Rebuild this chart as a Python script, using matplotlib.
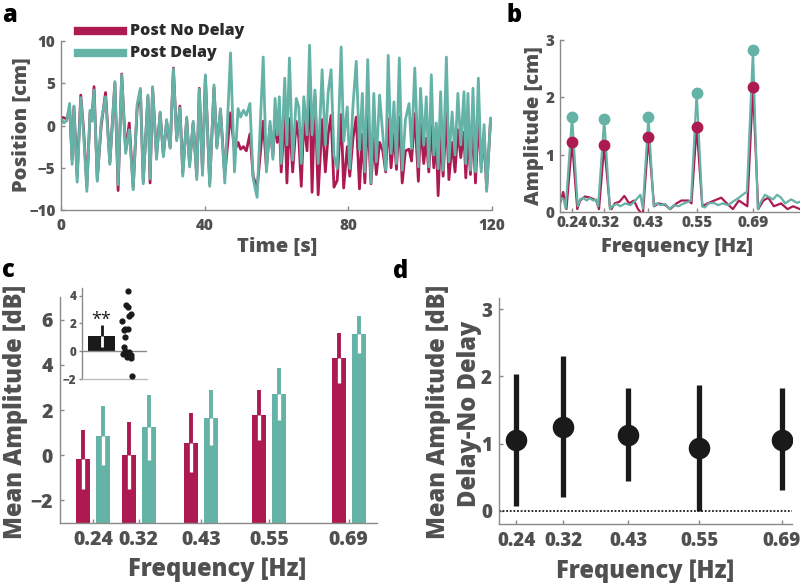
import numpy as np
import matplotlib
matplotlib.use("Agg")
import matplotlib.pyplot as plt
from matplotlib.lines import Line2D

plt.rcParams['font.family'] = ['Open Sans', 'DejaVu Sans']
plt.rcParams['font.weight'] = 800

# ---------------- data ----------------
# panel a: position traces (extrema)
a_time = [0.0, 0.8, 1.6, 2.4, 3.1, 3.6, 4.5, 5.5, 6.3, 7.2, 8.1, 8.6, 9.2, 10.1, 11.2, 12.4, 13.6,
          15.0, 15.9, 16.9, 18.0, 19.0, 20.1, 21.2, 22.1, 22.9, 24.2, 24.8, 25.5, 26.6, 27.6, 28.5,
          29.4, 30.4, 31.3, 32.2, 33.1, 33.9, 35.0, 35.8, 36.8, 37.8, 38.5, 39.4, 40.2, 41.4, 42.6,
          43.4, 44.4, 45.6, 47.2, 48.3, 49.3, 50.0, 50.8, 51.6, 52.6, 53.5, 54.6, 56.3, 57.2, 58.2,
          59.0, 59.6, 60.2, 60.8, 61.3, 62.3, 62.9, 63.6, 64.5, 65.5, 66.2, 66.9, 67.6, 68.5, 69.2,
          69.9, 70.7, 71.6, 72.7, 73.6, 74.4, 75.2, 76.0, 76.9, 78.0, 78.7, 79.7, 80.4, 81.3, 82.2,
          83.1, 83.9, 84.6, 85.4, 86.3, 87.1, 87.8, 88.7, 89.6, 90.4, 91.1, 91.9, 92.7, 93.4, 94.2,
          95.0, 95.9, 96.9, 97.6, 98.5, 99.5, 100.1, 101.0, 101.7, 102.4, 103.1, 103.8, 104.5, 105.0,
          105.7, 106.4, 107.3, 108.0, 108.9, 109.7, 110.5, 111.3, 112.2, 112.7, 113.3, 114.0, 114.7,
          115.4, 116.2, 117.0, 117.8, 118.5, 119.6, 120.0]
a_delay = [0.8, 0.3, 0.6, 2.6, -4.6, 2.3, -6.7, 3.3, -1.0, -7.8, 1.8, 0.5, 4.2, -6.6, 0.5, 3.4, -4.6,
           5.2, -7.0, 6.0, -3.3, -0.5, -7.6, 2.5, 4.4, -6.9, 3.6, -6.3, 4.6, -4.0, 1.6, -3.7,
           0.7, -2.7, 6.7, -1.8, 2.1, -6.0, 1.0, -4.9, 0.5, -6.4, 4.3, -5.9, 6.0, -7.2, 4.8,
           -2.7, 2.0, -6.8, 8.6, -5.5, 2.0, 1.0, 1.8, 1.2, 2.6, -6.3, -8.5, 8.1, -5.5, 0.5,
           -4.0, 3.2, -1.1, 3.4, -4.5, 5.6, -2.3, 8.0, -4.1, 3.2, 2.2, -4.5, 3.4, -1.1, 9.5,
           -1.1, 4.2, -4.5, 6.6, -2.3, 4.0, 6.6, -3.5, -5.1, 9.3, -1.9, 2.2, -5.1, 2.4, 7.6,
           -2.9, 3.8, -5.5, 7.8, -6.8, 3.8, -4.3, 3.6, -1.1, -5.3, 8.3, -3.3, 2.8, -4.5, 8.0,
           -5.3, 0.7, 2.6, -2.7, 6.8, -4.9, 4.4, -2.3, 3.4, -4.9, 6.0, -3.5, 0.3, -5.1,
           4.0, -5.3, 8.1, -4.3, 1.6, -3.5, 3.8, -2.3, 4.0, -4.5, 3.8, -5.3, 4.4,
           -5.5, 5.6, -5.5, 0.1, -7.8, 0.9, 0.5]
a_nodelay = [1.0, 0.9, 0.8, 2.0, -4.0, 2.2, -6.0, 3.6, -0.5, -7.2, 1.5, 0.8, 4.6, -6.4, 0.0, 3.9, -4.4,
             5.0, -7.7, 6.1, -3.0, 0.3, -7.4, 2.0, 4.2, -6.6, 3.4, -6.8, 4.4, -3.6, 1.5, -3.5,
             0.4, -2.6, 6.8, -1.6, 2.3, -5.6, 0.8, -4.6, 0.3, -6.0, 4.4, -5.5, 5.8, -6.9, 4.5,
             -2.5, 1.8, -5.9, 1.5, -3.0, -2.0, -2.8, -2.5, -3.0, -1.0, -6.0, -7.5, 0.5, -5.0, 0.0,
             -3.5, 1.0, -2.0, 0.5, -5.5, 1.5, -6.8, 0.8, -5.5, 0.5, -1.5, -7.2, 0.8, -3.0, 5.3,
             -7.9, 3.5, -8.2, 0.7, -5.5, -1.0, 1.2, -7.3, -6.5, 1.3, -7.4, -2.5, -6.0, -1.5, 1.0,
             -7.5, -1.0, -6.8, 1.2, -6.9, -1.5, -5.8, -2.0, -3.0, -5.5, 0.8, -5.0, -1.0, -5.2, 1.0,
             -6.8, -3.0, -2.8, -4.2, 1.4, -6.6, 0.2, -4.5, -1.5, -5.5, 0.0, -5.0, -1.5, -8.3,
             -1.0, -6.0, 1.5, -6.4, -2.0, -5.5, -0.5, -3.8, -0.8, -6.2, -1.2, -5.8, 0.3,
             -6.8, 0.8, -5.0, -1.2, -7.5, 0.7, 0.4]

# panel b: amplitude spectra
b_freq_delay = [0.210, 0.215, 0.219, 0.224, 0.240, 0.254, 0.260, 0.268, 0.276, 0.284, 0.293, 0.300,
                0.305, 0.320, 0.334, 0.340, 0.350, 0.360, 0.372, 0.385, 0.395, 0.410, 0.416, 0.430,
                0.443, 0.450, 0.460, 0.472, 0.482, 0.493, 0.505, 0.515, 0.530, 0.536, 0.550, 0.564,
                0.570, 0.580, 0.592, 0.603, 0.615, 0.628, 0.640, 0.655, 0.668, 0.675, 0.690, 0.702,
                0.710, 0.720, 0.730, 0.740, 0.750, 0.760, 0.770, 0.785, 0.800, 0.807]
b_amp_delay = [0.20, 0.24, 0.22, 0.06, 1.66, 0.10, 0.22, 0.25, 0.20, 0.24, 0.20, 0.22,
               0.10, 1.62, 0.05, 0.10, 0.14, 0.10, 0.15, 0.12, 0.18, 0.30, 0.06, 1.66,
               0.10, 0.15, 0.12, 0.14, 0.05, 0.12, 0.10, 0.14, 0.18, 0.20, 2.08, 0.10,
               0.08, 0.15, 0.16, 0.12, 0.15, 0.12, 0.18, 0.25, 0.32, 0.35, 2.82, 0.05,
               0.18, 0.30, 0.26, 0.22, 0.30, 0.25, 0.15, 0.22, 0.16, 0.18]
b_freq_nodelay = [0.210, 0.218, 0.226, 0.240, 0.253, 0.260, 0.272, 0.285, 0.300, 0.307, 0.320, 0.334,
                  0.338, 0.346, 0.358, 0.370, 0.382, 0.394, 0.404, 0.416, 0.430, 0.444, 0.455, 0.472,
                  0.484, 0.500, 0.512, 0.530, 0.537, 0.550, 0.564, 0.577, 0.594, 0.611, 0.625, 0.640,
                  0.655, 0.676, 0.690, 0.703, 0.716, 0.728, 0.742, 0.760, 0.776, 0.790, 0.807]
b_amp_nodelay = [0.15, 0.35, 0.05, 1.22, 0.05, 0.20, 0.27, 0.25, 0.20, 0.05, 1.16, 0.10,
                 0.05, 0.15, 0.18, 0.28, 0.15, 0.20, 0.05, -0.05, 1.30, 0.10, 0.15, 0.12,
                 0.05, 0.15, 0.20, 0.20, 0.15, 1.49, 0.10, 0.15, 0.20, 0.25, 0.15, 0.05,
                 0.20, 0.10, 2.18, 0.05, 0.20, 0.25, 0.10, 0.15, 0.05, 0.10, 0.05]

freqs = [0.24, 0.32, 0.43, 0.55, 0.69]
freq_labels = ['0.24', '0.32', '0.43', '0.55', '0.69']
b_peak_delay = [1.66, 1.62, 1.66, 2.08, 2.82]
b_peak_nodelay = [1.22, 1.16, 1.30, 1.49, 2.18]

# panel c: mean amplitude (dB)
c_nodelay = [-0.18, 0.0, 0.55, 1.78, 4.3]
c_nodelay_err = [1.3, 1.48, 1.3, 1.12, 1.1]
c_delay = [0.87, 1.24, 1.66, 2.71, 5.35]
c_delay_err = [1.32, 1.44, 1.22, 1.16, 0.82]

# panel c inset
inset_mean = 1.08
inset_err = 0.8
inset_x = [2.10, 2.05, 2.13, 2.24, 2.17, 1.85, 1.99, 2.13, 1.96, 2.00, 1.94, 1.99, 2.05, 2.16,
           1.90, 2.24, 2.28, 2.08, 2.33]
inset_y = [4.36, 3.3, 3.2, 2.65, 2.5, 2.2, 1.57, 1.57, 1.5, 1.0, 0.3, 0.02, -0.1, -0.05,
           -0.2, -0.3, -0.5, -0.4, -1.78]

# panel d: difference
d_mean = [1.05, 1.24, 1.12, 0.93, 1.06]
d_lo = [0.07, 0.20, 0.44, 0.0, 0.31]
d_hi = [2.04, 2.30, 1.83, 1.87, 1.83]

# ---------------- style ----------------
RED = '#AD1A52'
TEAL = '#65B2A6'
TXT = '#505050'
SPINE = '#8a8a8a'
W, H = 800, 583

fig = plt.figure(figsize=(8, 5.83), dpi=100)


def box(l, t, r, b):
    return [l / W, 1 - b / H, (r - l) / W, (b - t) / H]


def style(ax, size, padx, pady):
    for s in ['top', 'right']:
        ax.spines[s].set_visible(False)
    for s in ['left', 'bottom']:
        ax.spines[s].set_color(SPINE)
        ax.spines[s].set_linewidth(1.0)
    ax.tick_params(direction='in', length=3, width=1, colors=SPINE,
                   labelcolor=TXT, labelsize=size)
    ax.tick_params(axis='x', pad=padx)
    ax.tick_params(axis='y', pad=pady)


def ftext(x, y, s, **kw):
    fig.text(x / W, 1 - y / H, s, **kw)


# ---- panel a ----
axA = fig.add_axes(box(61, 41, 492, 210))
axA.plot(a_time, a_nodelay, color=RED, lw=2.0, solid_joinstyle='round')
axA.plot(a_time, a_delay, color=TEAL, lw=2.0, solid_joinstyle='round')
axA.set_xlim(0, 120)
axA.set_ylim(-10, 10)
axA.set_xticks([0, 40, 80, 120])
axA.set_yticks([-10, -5, 0, 5, 10])
style(axA, 11, 6, 4)
ftext(277, 247, 'Time [s]', ha='center', va='center', fontsize=14.5, color=TXT)
ftext(22, 125, 'Position [cm]', ha='center', va='center', rotation=90, fontsize=14.5, color=TXT)

# legend
fig.add_artist(Line2D([78 / W, 123 / W], [1 - 31 / H] * 2, color=RED, lw=6))
fig.add_artist(Line2D([78 / W, 123 / W], [1 - 53 / H] * 2, color=TEAL, lw=6))
ftext(130, 31, 'Post No Delay', ha='left', va='center', fontsize=11.5, color='#2b2b2b')
ftext(130, 53, 'Post Delay', ha='left', va='center', fontsize=11.5, color='#2b2b2b')

# ---- panel b ----
axB = fig.add_axes(box(560, 40, 800, 212))
axB.plot(b_freq_nodelay, b_amp_nodelay, color=RED, lw=1.6)
axB.plot(b_freq_delay, b_amp_delay, color=TEAL, lw=1.6)
axB.plot(freqs, b_peak_delay, 'o', color=TEAL, ms=7.5)
axB.plot(freqs, b_peak_nodelay, 'o', color=RED, ms=7.5)
axB.set_xlim(0.21, 0.807)
axB.set_ylim(0, 3)
axB.set_xticks(freqs)
axB.set_xticklabels(freq_labels)
axB.set_yticks([0, 1, 2, 3])
style(axB, 11, 2, 4)
ftext(677, 247, 'Frequency [Hz]', ha='center', va='center', fontsize=14.5, color=TXT)
ftext(534, 126, 'Amplitude [cm]', ha='center', va='center', rotation=90, fontsize=14.5, color=TXT)

# ---- panel c ----
axC = fig.add_axes(box(60, 297, 377, 523))
off, bw = 0.0176, 0.0247
base = -3
xr = [f - off for f in freqs]
xt = [f + off for f in freqs]
axC.bar(xr, [v - base for v in c_nodelay], bottom=base, width=bw, color=RED)
axC.bar(xt, [v - base for v in c_delay], bottom=base, width=bw, color=TEAL)
for x, v, e, col in list(zip(xr, c_nodelay, c_nodelay_err, [RED] * 5)) + \
        list(zip(xt, c_delay, c_delay_err, [TEAL] * 5)):
    axC.plot([x, x], [v, v + e], color=col, lw=2.8, solid_capstyle='butt')
    axC.plot([x, x], [v - e, v], color='white', lw=2.4, solid_capstyle='butt')
axC.set_xlim(0.1813, 0.7398)
axC.set_ylim(-3, 7)
axC.set_xticks(freqs)
axC.set_xticklabels(freq_labels)
axC.set_yticks([-2, 0, 2, 4, 6])
style(axC, 14, 5, 5)
ftext(217, 570, 'Frequency [Hz]', ha='center', va='center', fontsize=17, color=TXT)
ftext(16, 412, 'Mean Amplitude [dB]', ha='center', va='center', rotation=90, fontsize=17, color=TXT)

# inset
axI = fig.add_axes(box(82, 288, 147, 379))
axI.bar([0.9], [inset_mean], width=1.23, color='#1a1a1a')
axI.plot([0.9, 0.9], [inset_mean, inset_mean + inset_err], color='#1a1a1a', lw=2, solid_capstyle='butt')
axI.plot([0.9, 0.9], [inset_mean - inset_err, inset_mean], color='white', lw=2, solid_capstyle='butt')
axI.axhline(0, color=SPINE, lw=1)
axI.scatter(inset_x, inset_y, s=12, color='#1a1a1a', zorder=3)
axI.text(0.9, 2.25, '**', ha='center', va='center', fontsize=13, fontweight='normal', color='#1a1a1a')
axI.set_xlim(0, 3)
axI.set_ylim(-2, 4.55)
axI.set_xticks([])
axI.set_yticks([-2, 0, 2, 4])
axI.patch.set_alpha(0)
style(axI, 8.5, 2, 2)
axI.spines['bottom'].set_color('#bbbbbb')
axI.tick_params(axis='y', direction='out', length=2)

# ---- panel d ----
axD = fig.add_axes(box(499, 298, 792, 524))
axD.axhline(0, color='#1a1a1a', lw=1.3, ls=(0, (1, 1)))
axD.vlines(freqs, d_lo, d_hi, color='#1a1a1a', lw=3.8)
axD.plot(freqs, d_mean, 'o', color='#1a1a1a', ms=14.5)
axD.set_xlim(0.211, 0.707)
axD.set_ylim(-0.2, 3.17)
axD.set_xticks(freqs)
axD.set_xticklabels(freq_labels)
axD.set_yticks([0, 1, 2, 3])
style(axD, 13.5, 5, 5)
ftext(645, 571, 'Frequency [Hz]', ha='center', va='center', fontsize=17, color=TXT)
ftext(439, 412, 'Mean Amplitude [dB]', ha='center', va='center', rotation=90, fontsize=17, color=TXT)
ftext(469, 414, 'Delay-No Delay', ha='center', va='center', rotation=90, fontsize=17, color=TXT)

# panel letters
for s, x, y in [('a', 2, 22), ('b', 507, 22), ('c', 2, 277), ('d', 393, 278)]:
    ftext(x, y, s, ha='left', va='baseline', fontsize=17, color='black')

fig.savefig('out.png', dpi=100)
